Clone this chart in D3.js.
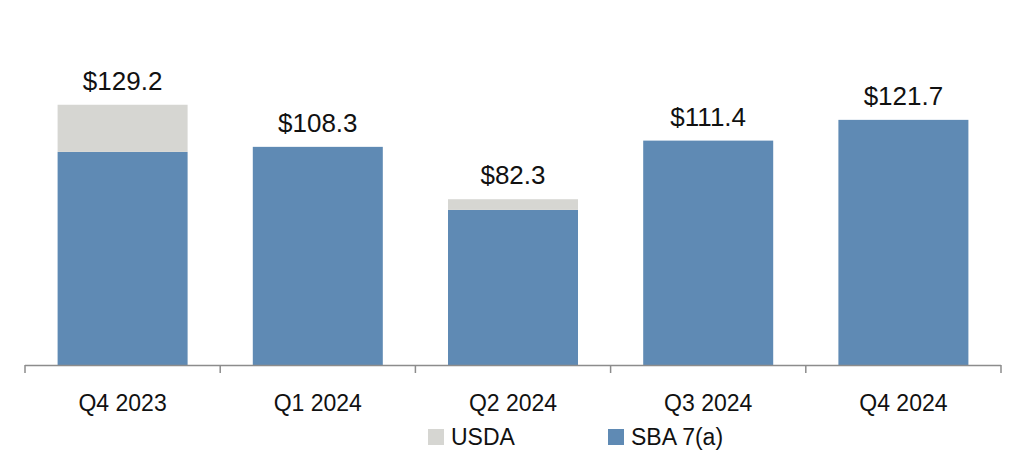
<!DOCTYPE html>
<html>
<head>
<meta charset="utf-8">
<script src="https://cdn.jsdelivr.net/npm/d3@7"></script>
<style>
  html, body { margin: 0; padding: 0; background: #fff; }
  svg { display: block; font-family: "Liberation Sans", Arial, sans-serif; }
</style>
</head>
<body>
<svg id="chart" width="1023" height="452"></svg>
<script>
// Quarterly volume ($ millions), stacked by guarantee program
const quarters = ["Q4 2023", "Q1 2024", "Q2 2024", "Q3 2024", "Q4 2024"];
const sbaValues = [105.8, 108.3, 77.0, 111.4, 121.7];
const usdaValues = [23.4, 0, 5.3, 0, 0];
const totalLabels = ["$129.2", "$108.3", "$82.3", "$111.4", "$121.7"];
const seriesNames = ["USDA", "SBA 7(a)"];

const colors = { "SBA 7(a)": "#5f8ab4", "USDA": "#d6d6d2" };

const svg = d3.select("#chart");

const x = d3.scaleBand()
  .domain(quarters)
  .range([25, 1001])
  .paddingInner(0.334)
  .paddingOuter(0.167);

const y = d3.scaleLinear()
  .domain([0, 140])
  .range([365, 83]);

const rows = quarters.map((q, i) => ({
  quarter: q,
  "SBA 7(a)": sbaValues[i],
  "USDA": usdaValues[i],
  label: totalLabels[i]
}));

// SBA at the bottom, USDA stacked on top
const stack = d3.stack().keys(["SBA 7(a)", "USDA"]);
const layers = stack(rows);

svg.append("g")
  .selectAll("g")
  .data(layers)
  .join("g")
  .attr("fill", d => colors[d.key])
  .selectAll("rect")
  .data(d => d)
  .join("rect")
  .attr("x", d => x(d.data.quarter))
  .attr("width", x.bandwidth())
  .attr("y", d => y(d[1]))
  .attr("height", d => y(d[0]) - y(d[1]));

// Total labels above each bar
svg.append("g")
  .selectAll("text")
  .data(rows)
  .join("text")
  .attr("x", d => x(d.quarter) + x.bandwidth() / 2)
  .attr("y", d => y(d["SBA 7(a)"] + d["USDA"]) - 15)
  .attr("text-anchor", "middle")
  .attr("font-size", 26)
  .attr("fill", "#111")
  .text(d => d.label);

// Category axis with ticks between bands
const axisG = svg.append("g");
const edges = quarters.map(q => x(q) - x.step() * x.paddingInner() / 2)
  .concat([x.range()[1]]);
axisG.append("line")
  .attr("x1", x.range()[0]).attr("x2", x.range()[1])
  .attr("y1", y(0) + 0.5).attr("y2", y(0) + 0.5)
  .attr("stroke", "#8c8c8c").attr("stroke-width", 1.5);
axisG.selectAll("line.tick")
  .data([x.range()[0]].concat(quarters.slice(1).map(q => x(q) - x.step() * x.paddingInner() / 2)).concat([x.range()[1]]))
  .join("line")
  .attr("class", "tick")
  .attr("x1", d => d).attr("x2", d => d)
  .attr("y1", y(0)).attr("y2", y(0) + 8)
  .attr("stroke", "#8c8c8c").attr("stroke-width", 1.5);
axisG.selectAll("text")
  .data(quarters)
  .join("text")
  .attr("x", d => x(d) + x.bandwidth() / 2)
  .attr("y", 411)
  .attr("text-anchor", "middle")
  .attr("font-size", 23)
  .attr("fill", "#111")
  .text(d => d);

// Legend
const legendX = [428, 608];
const legend = svg.append("g")
  .selectAll("g")
  .data(seriesNames)
  .join("g")
  .attr("transform", (d, i) => `translate(${legendX[i]},0)`);
legend.append("rect")
  .attr("x", 0).attr("y", 429)
  .attr("width", 16).attr("height", 16)
  .attr("fill", d => colors[d]);
legend.append("text")
  .attr("x", 23).attr("y", 445)
  .attr("font-size", 23)
  .attr("fill", "#111")
  .text(d => d);
</script>
</body>
</html>
